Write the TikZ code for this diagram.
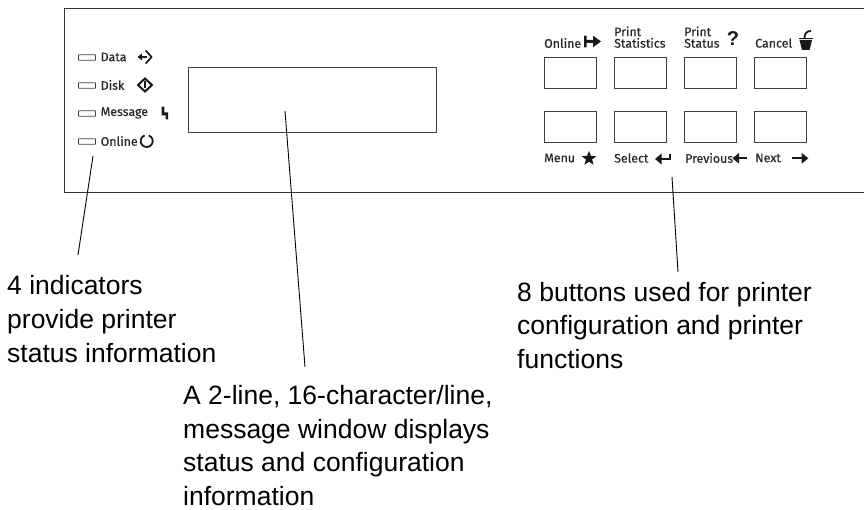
\documentclass[tikz,border=0pt]{standalone}
\usepackage{fontspec}
\setmainfont{Liberation Sans}
\newfontfamily\panelfont[FakeBold=0.4]{Fira Sans}
\usetikzlibrary{arrows,positioning,shapes.geometric}
\tikzset{
  callout/.style={anchor=base west,align=left,inner sep=0pt,font=\fontsize{26.5}{33.5}\selectfont},
  panellabel/.style={anchor=west,align=left,inner sep=0pt,font=\panelfont\fontsize{12.4}{11.5}\selectfont,text=black!85},
  keybox/.style={draw=black!75,line width=0.9pt,outer sep=0pt,minimum width=52pt,minimum height=31.5pt,inner sep=0pt},
  ledbox/.style={draw=black!75,line width=0.8pt,rounded corners=0.5pt,minimum width=17pt,minimum height=5.5pt,inner sep=0pt},
  leader/.style={draw=black,line width=0.9pt},
  glyph/.style={fill=black!90,draw=none}
}
\begin{document}
\begin{tikzpicture}[x=1pt,y=-1pt]
\useasboundingbox (0,0) rectangle (864,510);
% panel outline
\draw [black!80,line width=0.8pt] (864,8) -- (64,8) -- (64,192.5) -- (864,192.5);
\node [draw=black!75,line width=0.8pt,minimum width=248pt,minimum height=65pt,inner sep=0pt,anchor=north west] (window) at (188,67) {};
% indicators
\node [ledbox] (ledData) at (87,57.5) {};
\node [ledbox] (ledDisk) at (87,85.5) {};
\node [ledbox] (ledMessage) at (87,113.5) {};
\node [ledbox] (ledOnline) at (87,141.5) {};
\node [panellabel] (txtData) at (100.5,57) {Data};
\node [panellabel] (txtDisk) at (100.5,85) {Disk};
\node [panellabel] (txtMessage) at (100.5,113) {Message};
\node [panellabel] (txtOnline) at (100.5,141) {Online};
% indicator icons
\draw [black!90,line width=1.7pt] (145.7,50.5) -- (151.5,57) -- (145.7,63.5);
\draw [black!90,line width=1.2pt] (146.5,57) -- (141,57);
\fill [glyph] (137.5,57) -- (142,53.5) -- (142,60.5) -- cycle;
\draw [black!90,line width=2pt] (145,78.5) -- (152,85) -- (145,91.5) -- (138,85) -- cycle;
\draw [black!90,line width=1.6pt] (145,81.5) -- (145,88);
\fill [glyph] (161.7,106.7) -- (164.3,106.7) -- (164.3,112.5) -- (168,112.5) -- (168,119.5) -- (165.5,119.5) -- (165.5,115.5) -- (161.7,115.5) -- cycle;
\draw [black!90,line width=1.8pt] (144.65,135.4) arc (110:430:6pt);
% keys
\node [keybox,anchor=north west] (keyOnline) at (544,57) {};
\node [keybox,right=18pt of keyOnline] (keyStats) {};
\node [keybox,right=18pt of keyStats] (keyStatus) {};
\node [keybox,right=18pt of keyStatus] (keyCancel) {};
\node [keybox,anchor=north west] (keyMenu) at (544,111) {};
\node [keybox,right=18pt of keyMenu] (keySelect) {};
\node [keybox,right=18pt of keySelect] (keyPrev) {};
\node [keybox,right=18pt of keyPrev] (keyNext) {};
% key labels
\node [panellabel] (txtOnlineKey) at (544,43) {Online};
\node [panellabel,anchor=south west] (txtStats) at (614,48) {Print\\Statistics};
\node [panellabel,anchor=south west] (txtStatus) at (684,48) {Print\\Status};
\node [panellabel] (txtCancel) at (755,43) {Cancel};
\node [panellabel] (txtMenu) at (544,158) {Menu};
\node [panellabel] (txtSelect) at (614,158) {Select};
\node [panellabel] (txtPrev) at (685,158) {Previous};
\node [panellabel] (txtNext) at (755,158) {Next};
% key icons
\fill [glyph] (584,35.7) -- (586.5,35.7) -- (586.5,40) -- (593,40) -- (593,35.7) -- (601,41.5) -- (593,47.3) -- (593,43) -- (586.5,43) -- (586.5,47.3) -- (584,47.3) -- cycle;
\node [inner sep=0pt,font=\bfseries\fontsize{20}{20}\selectfont,text=black!90] (markStatus) at (733,39) {?};
\fill [glyph] (799.5,40) -- (812,40) -- (809.5,50) -- (802,50) -- cycle;
\draw [black!90,line width=1.5pt] (798.5,38.5) -- (813,38.5);
\draw [black!90,line width=1.8pt] (804.5,38) .. controls (804.5,33) and (807,31) .. (811,31);
\node [star,star points=5,star point ratio=2.4,fill=black!90,inner sep=0pt,minimum size=15.5pt] (markMenu) at (589,158.5) {};
\draw [black!90,line width=1.6pt] (670,154) -- (670,159) -- (660,159);
\fill [glyph] (655,159) -- (661.5,153.5) -- (661.5,164.5) -- cycle;
\draw [black!90,line width=1.6pt] (746.7,158.3) -- (737,158.3);
\fill [glyph] (732.5,158.3) -- (739,153) -- (739,163.6) -- cycle;
\draw [black!90,line width=1.6pt] (791.7,158.3) -- (802,158.3);
\fill [glyph] (808.3,158.3) -- (801.7,153) -- (801.7,163.6) -- cycle;
% callouts
\node [callout] (noteLeds) at (7,362) {4 indicators\\provide printer\\status information};
\node [callout] (noteWindow) at (183,505) {A 2-line, 16-character/line,\\message window displays\\status and configuration\\information};
\node [callout] (noteKeys) at (517,368) {8 buttons used for printer\\configuration and printer\\functions};
% leaders
\coordinate (aimLeds) at (93,156);
\coordinate (aimWindow) at (285,111);
\coordinate (aimKeys) at (672,177);
\coordinate (footLeds) at (78,255);
\coordinate (footWindow) at (305,367);
\coordinate (footKeys) at (678,272);
\draw [leader] (aimLeds) -- (footLeds);
\draw [leader] (aimWindow) -- (footWindow);
\draw [leader] (aimKeys) -- (footKeys);
\end{tikzpicture}
\end{document}
